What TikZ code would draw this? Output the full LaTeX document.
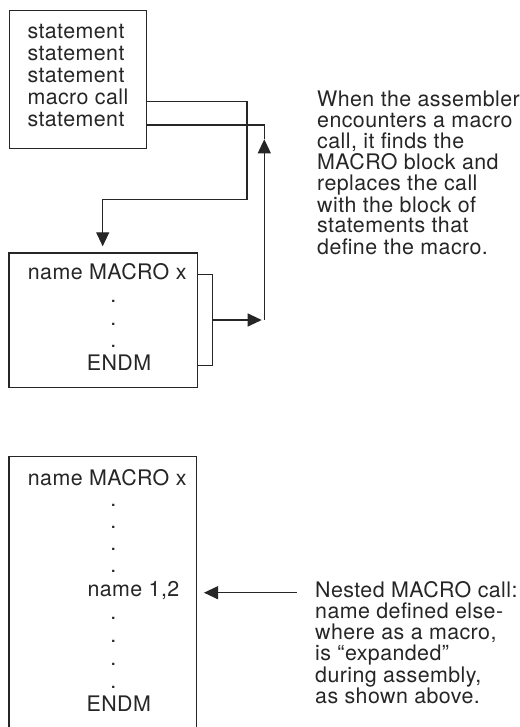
\documentclass[tikz,border=0pt]{standalone}
\usepackage{fontspec}
\setmainfont[LetterSpace=2]{TeX Gyre Heros}
\usetikzlibrary{arrows.meta}
\definecolor{ink}{HTML}{262626}
\begin{document}
\begin{tikzpicture}[x=1pt,y=-1pt,
  box/.style={draw=ink, line width=1.3pt, inner sep=0pt, anchor=north west},
  conn/.style={draw=ink, line width=1.1pt},
  tip/.style={-{Triangle[length=14pt,width=13pt]}},
  txt/.style={inner sep=0pt, anchor=base west, text=ink, font=\fontsize{21.4}{22}\selectfont},
  ctr/.style={txt, anchor=base},
  dotmark/.style={ctr}]
\useasboundingbox (0,0) rectangle (519,727);
\fill[white] (0,0) rectangle (519,727);
\clip (0,0) rectangle (519,727);

% program with a macro call
\node[box, minimum width=136.7pt, minimum height=137.7pt] (box1) at (9,10) {};
\foreach \t [count=\i] in {statement,statement,statement,macro call,statement}
  \node[txt] (s\i) at (27.3,16.3+22*\i) {\t};

% macro definition block
\node[box, minimum width=188.4pt, minimum height=134.4pt] (box2) at (8.3,252.3) {};
\node[txt] (m1) at (27.7,279.3) {name MACRO x};
\foreach \y [count=\i] in {301,324,346.7}
  \node[dotmark] (md\i) at (113.3,\y+1.2) {.};
\node[ctr] (m2) at (119,370) {ENDM};

% nested macro block
\node[box, minimum width=187.4pt, minimum height=300pt] (box3) at (8.3,455.7) {};
\node[txt] (n1) at (27.7,485) {name MACRO x};
\foreach \y [count=\i] in {505,527.3,549,571.7,618,641,664,687}
  \node[dotmark] (nd\i) at (113.3,\y+1.2) {.};
\node[txt] (n2) at (87.3,596.7) {name 1,2};
\node[ctr] (n3) at (118.7,711.7) {ENDM};

% explanations
\foreach \t [count=\i] in {When the assembler,encounters a macro,{call, it finds the},MACRO block and,replaces the call,with the block of,statements that,define the macro.}
  \node[txt] (w\i) at (317,86+21*\i) {\t};
\foreach \t [count=\i] in {Nested MACRO call:,name defined else-,{where as a macro,},is “expanded”,{during assembly,},as shown above.}
  \node[txt] (e\i) at (315,576+21.2*\i) {\t};

% call: jump to the macro block
\coordinate (c1) at (247,101.7);
\coordinate (c2) at (247,199.5);
\coordinate (c3) at (102.7,199.5);
\draw[conn,tip] (box1.east |- c1) -- (c1) -- (c2) -- (c3) -- ([yshift=6pt]box2.north -| c3);

% bracket round the block and the return path
\coordinate (b1) at (212.3,274.3);
\coordinate (b2) at (212.3,365.7);
\coordinate (bm) at (212.3,320);
\coordinate (rt) at (264.3,320);
\coordinate (ru) at (264.3,139.3);
\coordinate (rtop) at (264.3,125);
\draw[conn] (box2.east |- b1) -- (b1) -- (b2) -- (box2.east |- b2);
\draw[conn,tip] (bm) -- ([xshift=-2.6pt]rt);
\draw[conn,tip] (rt) -- (ru);
\draw[conn] (ru) -- (rtop) -- (box1.east |- rtop);

% pointer to the nested call
\coordinate (na) at (296.7,592.7);
\draw[conn,tip] (na) -- ([xshift=7pt]box3.east |- na);
\end{tikzpicture}
\end{document}
